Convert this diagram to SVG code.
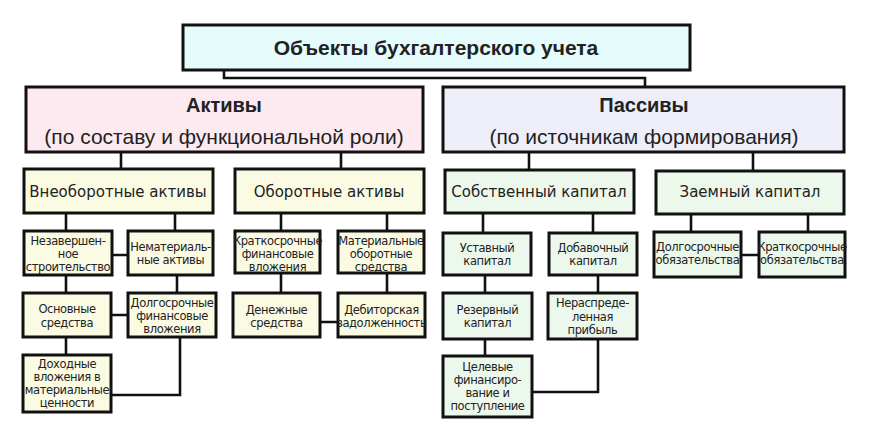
<svg xmlns="http://www.w3.org/2000/svg" width="869" height="442" viewBox="0 0 869 442">
<style>
.b{stroke:#111;stroke-width:3}
.c{fill:none;stroke:#111;stroke-width:2.6}
.top{fill:#e6fcfc}.act{fill:#fdeaf1}.pas{fill:#eeeefb}.ya{fill:#fbfbe4}.gr{fill:#edf8ed}
text{fill:#222;text-anchor:middle}
.t1{font:bold 21px "Liberation Sans",Arial,sans-serif}
.t2{font:bold 20px "Liberation Sans",Arial,sans-serif}
.t3{font:21px "Liberation Sans",Arial,sans-serif}
.t4{font:15px "DejaVu Sans",Verdana,sans-serif}
.s{font:11.5px "DejaVu Sans",Verdana,sans-serif;letter-spacing:-0.4px}
</style>
<rect width="869" height="442" fill="#fff"/>
<g id="connectors">
<path class="c" d="M224,70V78H645V87"/>
<path class="c" d="M121,152V169M341,152V169M529,152V171M753,152V171"/>
<path class="c" d="M66,213V231M175,213V231M112,255H128M66,275V293M177,275V293M111,315H128M66,337V355M180,337V395H111"/>
<path class="c" d="M281,213V231M387,213V231M281,273V293M387,273V293M320,322H338"/>
<path class="c" d="M483,213V233M593,213V233M485,275V293M598,275V293M485,339V356M598,339V392H532"/>
<path class="c" d="M691,214V232M808,214V232M741,255H759"/>
</g>
<g id="n-root"><rect class="b top" x="183" y="25" width="507" height="45"/><text class="t1" x="436" y="55">Объекты бухгалтерского учета</text></g>
<g id="n-aktivy"><rect class="b act" x="26" y="87" width="397" height="65"/><text class="t2" x="224" y="112">Активы</text><text class="t3" x="224" y="144">(по составу и функциональной роли)</text></g>
<g id="n-passivy"><rect class="b pas" x="443" y="87" width="401" height="65"/><text class="t2" x="644" y="112">Пассивы</text><text class="t3" x="644" y="144">(по источникам формирования)</text></g>
<g id="n-vneob"><rect class="b ya" x="24" y="169" width="189" height="44"/><text class="t4" x="118" y="197">Внеоборотные активы</text></g>
<g id="n-obor"><rect class="b ya" x="235" y="169" width="189" height="44"/><text class="t4" x="329" y="197">Оборотные активы</text></g>
<g id="n-sobst"><rect class="b gr" x="445" y="170" width="189" height="43"/><text class="t4" x="539" y="197">Собственный капитал</text></g>
<g id="n-zaem"><rect class="b gr" x="656" y="171" width="188" height="43"/><text class="t4" x="750" y="197">Заемный капитал</text></g>
<g id="n-nezav"><rect class="b ya" x="24" y="231" width="88" height="44"/><text class="s" x="68" y="245">Незавершен-</text><text class="s" x="68" y="258">ное</text><text class="s" x="68" y="271">строительство</text></g>
<g id="n-nemat"><rect class="b ya" x="128" y="231" width="85" height="44"/><text class="s" x="170.5" y="251">Нематериаль-</text><text class="s" x="170.5" y="264">ные активы</text></g>
<g id="n-osn"><rect class="b ya" x="23" y="293" width="88" height="44"/><text class="s" x="67" y="313">Основные</text><text class="s" x="67" y="327">средства</text></g>
<g id="n-dolgfin"><rect class="b ya" x="128" y="293" width="88" height="44"/><text class="s" x="172" y="307">Долгосрочные</text><text class="s" x="172" y="320">финансовые</text><text class="s" x="172" y="333">вложения</text></g>
<g id="n-dohod"><rect class="b ya" x="23" y="355" width="88" height="57"/><text class="s" x="67" y="368">Доходные</text><text class="s" x="67" y="381">вложения в</text><text class="s" x="67" y="394">материальные</text><text class="s" x="67" y="407">ценности</text></g>
<g id="n-kratfin"><rect class="b ya" x="235" y="231" width="85" height="42"/><text class="s" x="277.5" y="245">Краткосрочные</text><text class="s" x="277.5" y="258">финансовые</text><text class="s" x="277.5" y="271">вложения</text></g>
<g id="n-matob"><rect class="b ya" x="338" y="231" width="86" height="42"/><text class="s" x="381" y="245">Материальные</text><text class="s" x="381" y="258">оборотные</text><text class="s" x="381" y="271">средства</text></g>
<g id="n-den"><rect class="b ya" x="233" y="293" width="87" height="44"/><text class="s" x="276.5" y="314">Денежные</text><text class="s" x="276.5" y="327">средства</text></g>
<g id="n-debit"><rect class="b ya" x="338" y="293" width="87" height="44"/><text class="s" x="381.5" y="314">Дебиторская</text><text class="s" x="381.5" y="327">задолженность</text></g>
<g id="n-ustav"><rect class="b gr" x="443" y="233" width="88" height="42"/><text class="s" x="487" y="252">Уставный</text><text class="s" x="487" y="265">капитал</text></g>
<g id="n-dobav"><rect class="b gr" x="549" y="233" width="88" height="42"/><text class="s" x="593" y="252">Добавочный</text><text class="s" x="593" y="265">капитал</text></g>
<g id="n-rezerv"><rect class="b gr" x="443" y="293" width="89" height="46"/><text class="s" x="487.5" y="314">Резервный</text><text class="s" x="487.5" y="327">капитал</text></g>
<g id="n-neraspr"><rect class="b gr" x="548" y="293" width="89" height="46"/><text class="s" x="592.5" y="307">Нераспреде-</text><text class="s" x="592.5" y="321">ленная</text><text class="s" x="592.5" y="334">прибыль</text></g>
<g id="n-celev"><rect class="b gr" x="443" y="356" width="89" height="61"/><text class="s" x="487.5" y="371">Целевые</text><text class="s" x="487.5" y="384">финансиро-</text><text class="s" x="487.5" y="397">вание и</text><text class="s" x="487.5" y="410">поступление</text></g>
<g id="n-dolgob"><rect class="b gr" x="654" y="232" width="87" height="45"/><text class="s" x="697.5" y="251">Долгосрочные</text><text class="s" x="697.5" y="264">обязательства</text></g>
<g id="n-kratob"><rect class="b gr" x="759" y="232" width="86" height="45"/><text class="s" x="802" y="251">Краткосрочные</text><text class="s" x="802" y="264">обязательства</text></g>
</svg>
